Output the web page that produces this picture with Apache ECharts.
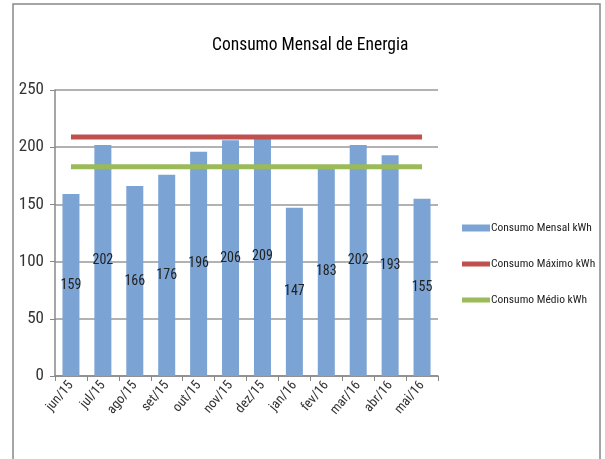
<!DOCTYPE html>
<html><head><meta charset="utf-8">
<script src="https://cdn.jsdelivr.net/npm/echarts@6/dist/echarts.min.js"></script>
<style>html,body{margin:0;padding:0;background:#fff}#c{width:605px;height:459px}</style>
</head><body><div id="c"></div>
<script>
const categories = ['jun/15','jul/15','ago/15','set/15','out/15','nov/15','dez/15','jan/16','fev/16','mar/16','abr/16','mai/16'];
const monthly = [159,202,166,176,196,206,209,147,183,202,193,155];
const maxLine = [209,209,209,209,209,209,209,209,209,209,209,209];
const avgLine = [183,183,183,183,183,183,183,183,183,183,183,183];
const yTicks = {min:0, max:250, interval:50};
const F = '"Roboto Condensed","DejaVu Sans Condensed",sans-serif';
const lineIcon = 'path://M0,0h0.01v0.01h-0.01zM28,7h-0.01v-0.01h0.01zM0,1h28v5h-28z';
const chart = echarts.init(document.getElementById('c'));
chart.setOption({
  animation:false,
  textStyle:{fontFamily:F},
  title:{text:'Consumo Mensal de Energia', left:207, top:32,
    textStyle:{fontFamily:F, fontSize:17.5, fontWeight:'normal', color:'#000'}},
  graphic:[{type:'rect', shape:{x:13,y:4,width:587,height:470}, style:{fill:'none', stroke:'#888', lineWidth:1.5}, silent:true}],
  legend:{orient:'vertical', left:457, top:217, itemGap:24, itemWidth:28, itemHeight:7,
    textStyle:{fontFamily:F, fontSize:11.5, color:'#222', padding:[0,0,0,-4]},
    data:[{name:'Consumo Mensal kWh', icon:'rect'},
          {name:'Consumo Máximo kWh', icon:lineIcon},
          {name:'Consumo Médio kWh', icon:lineIcon}]},
  grid:{left:55, right:167, top:90, bottom:83},
  xAxis:{type:'category', data:categories,
    axisLine:{lineStyle:{color:'#888', width:1.5}},
    axisTick:{show:true, length:5, lineStyle:{color:'#888'}},
    axisLabel:{rotate:50, fontFamily:F, fontSize:13.5, color:'#333', margin:7}},
  yAxis:{type:'value', min:yTicks.min, max:yTicks.max, interval:yTicks.interval,
    axisLine:{show:true, lineStyle:{color:'#888', width:1.5}},
    axisTick:{show:true, length:5, lineStyle:{color:'#888'}},
    axisLabel:{fontFamily:F, fontSize:17, color:'#333', margin:11},
    splitLine:{lineStyle:{color:'#999', width:1.5}}},
  series:[
    {name:'Consumo Mensal kWh', type:'bar', data:monthly, barWidth:17,
      itemStyle:{color:'#7ba3d4'},
      label:{show:true, position:'inside', fontFamily:F, fontSize:14, color:'#222'}},
    {name:'Consumo Máximo kWh', type:'line', data:maxLine, symbol:'none', z:5,
      lineStyle:{color:'#c0504d', width:5, cap:'butt'}, itemStyle:{color:'#c0504d'}},
    {name:'Consumo Médio kWh', type:'line', data:avgLine, symbol:'none', z:5,
      lineStyle:{color:'#9bbb59', width:5, cap:'butt'}, itemStyle:{color:'#9bbb59'}}
  ]
});
</script></body></html>
